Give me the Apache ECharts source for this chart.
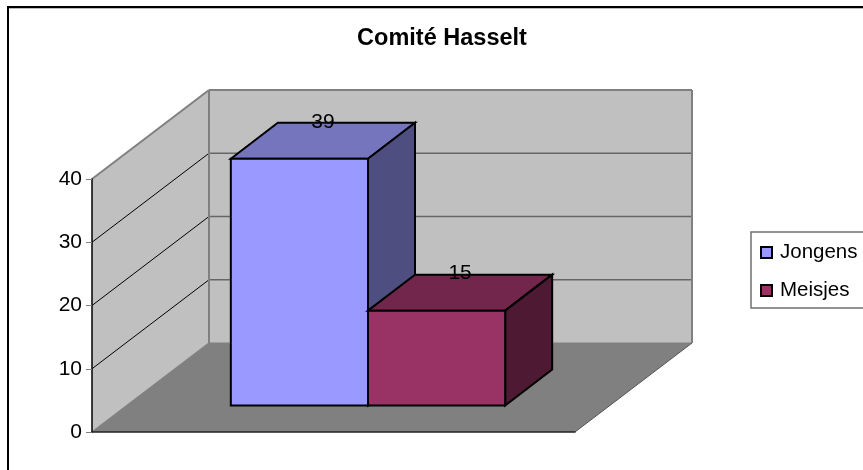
<!DOCTYPE html>
<html>
<head>
<meta charset="utf-8">
<title>Comité Hasselt</title>
<style>
  html, body { margin: 0; padding: 0; background: #fff; }
  #main { width: 863px; height: 470px; }
</style>
<script src="https://cdn.jsdelivr.net/npm/echarts@6/dist/echarts.min.js"></script>
</head>
<body>
<div id="main"></div>
<script>
const categories = ["Comité Hasselt"];
const seriesNames = ["Jongens", "Meisjes"];
const jongensValues = [39];
const meisjesValues = [15];
const yTicks = [0, 10, 20, 30, 40];

// fake 3d: how far the back wall sits from the front plane
const wallDepth = [117, -89];
const barDepth = [47, -36];
const barFloorShift = [34.5, -26.5];
const barShare = 0.284;

const faces = {
  Jongens: { front: "#9999FF", top: "#7575BE", side: "#4E4E80" },
  Meisjes: { front: "#993366", top: "#73264C", side: "#4D1933" },
};

function poly(points, fill, stroke, lineWidth) {
  return {
    type: "polygon",
    shape: { points: points },
    style: { fill: fill, stroke: stroke, lineWidth: lineWidth || 0 },
  };
}

function line(a, b, stroke, lineWidth) {
  return {
    type: "line",
    shape: { x1: a[0], y1: a[1], x2: b[0], y2: b[1] },
    style: { stroke: stroke, lineWidth: lineWidth },
  };
}

function renderWalls(params, api) {
  const rect = params.coordSys;
  const left = rect.x;
  const right = rect.x + rect.width;
  const bottom = api.coord([0, 0])[1];
  const top = api.coord([0, 40])[1];
  const [dx, dy] = wallDepth;
  const children = [
    poly([[left, bottom], [left + dx, bottom + dy], [right + dx, bottom + dy], [right, bottom]], "#808080"),
    poly([[left, top], [left + dx, top + dy], [left + dx, bottom + dy], [left, bottom]], "#C0C0C0"),
    poly([[left + dx, top + dy], [right + dx, top + dy], [right + dx, bottom + dy], [left + dx, bottom + dy]], "#C0C0C0"),
  ];
  yTicks.slice(1, -1).forEach((t) => {
    const y = api.coord([0, t])[1];
    children.push(line([left, y], [left + dx, y + dy], "#000", 1));
    children.push(line([left + dx, y + dy], [right + dx, y + dy], "#666", 1.5));
  });
  // wall outline
  children.push(line([left, top], [left + dx, top + dy], "#808080", 2));
  children.push(line([left + dx, top + dy], [right + dx, top + dy], "#808080", 2));
  children.push(line([right + dx, top + dy], [right + dx, bottom + dy], "#808080", 2));
  children.push(line([left + dx, top + dy], [left + dx, bottom + dy], "#808080", 2));
  children.push(line([left, bottom], [left + dx, bottom + dy], "#808080", 1.5));
  children.push(line([left + dx, bottom + dy], [right + dx, bottom + dy], "#808080", 1));
  children.push(line([right + dx, bottom + dy], [right, bottom], "#555", 1));
  return { type: "group", children: children };
}

function renderBar(barIndex, name) {
  return function (params, api) {
    const value = api.value(1);
    const band = api.size([1, 0])[0];
    const width = band * barShare;
    const center = api.coord([api.value(0), 0])[0];
    const [sx, sy] = barFloorShift;
    const [dx, dy] = barDepth;
    const x0 = center + (barIndex - 1) * width + sx;
    const x1 = x0 + width;
    const y0 = api.coord([0, 0])[1] + sy;
    const y1 = api.coord([0, value])[1] + sy;
    const c = faces[name];
    return {
      type: "group",
      children: [
        poly([[x0, y1], [x0 + dx, y1 + dy], [x1 + dx, y1 + dy], [x1, y1]], c.top, "#000", 2),
        poly([[x1, y1], [x1 + dx, y1 + dy], [x1 + dx, y0 + dy], [x1, y0]], c.side, "#000", 2),
        poly([[x0, y1], [x1, y1], [x1, y0], [x0, y0]], c.front, "#000", 2),
        {
          type: "text",
          style: {
            text: String(value),
            x: (x0 + x1) / 2 + dx / 2,
            y: y1 + dy - 1,
            align: "center",
            verticalAlign: "middle",
            fill: "#000",
            font: "21px 'Liberation Sans'",
          },
        },
      ],
    };
  };
}

const chart = echarts.init(document.getElementById("main"));

chart.setOption({
  animation: false,
  backgroundColor: "#fff",
  textStyle: { fontFamily: "Liberation Sans" },
  title: {
    text: "Comité Hasselt",
    left: 437,
    top: 22,
    textAlign: "center",
    textStyle: { fontFamily: "Liberation Sans", fontSize: 23.5, fontWeight: "bold", color: "#000" },
  },
  grid: { left: 92, top: 179, width: 483, height: 253 },
  xAxis: {
    type: "category",
    data: categories,
    axisTick: { show: false },
    axisLabel: { show: false },
    axisLine: { lineStyle: { color: "#222", width: 1.5 } },
    z: 5,
  },
  yAxis: {
    type: "value",
    min: 0,
    max: 40,
    interval: 10,
    splitLine: { show: false },
    axisLine: { show: true, lineStyle: { color: "#000", width: 1.5 } },
    axisTick: { show: true, length: 6, lineStyle: { color: "#808080", width: 1 } },
    axisLabel: { fontFamily: "Liberation Sans", fontSize: 21, color: "#000", margin: 10 },
    z: 5,
  },
  legend: {
    data: seriesNames,
    orient: "vertical",
    left: 751,
    top: 232,
    padding: [10, 30, 7, 9],
    itemGap: 17,
    itemWidth: 11,
    itemHeight: 11,
    icon: "rect",
    borderColor: "#707070",
    borderWidth: 1.5,
    backgroundColor: "#fff",
    itemStyle: { borderColor: "#000", borderWidth: 2 },
    textStyle: { fontFamily: "Liberation Sans", fontSize: 20.5, color: "#000", padding: [0, 0, 0, 3] },
  },
  graphic: [
    { type: "line", shape: { x1: 8, y1: 6, x2: 8, y2: 470 }, style: { stroke: "#000", lineWidth: 2 }, z: 10, silent: true },
    { type: "line", shape: { x1: 7, y1: 7, x2: 863, y2: 7 }, style: { stroke: "#000", lineWidth: 2 }, z: 10, silent: true },
    { type: "line", shape: { x1: 9, y1: 8.5, x2: 863, y2: 8.5 }, style: { stroke: "#bbb", lineWidth: 1 }, z: 10, silent: true },
  ],
  series: [
    {
      type: "custom",
      silent: true,
      z: 1,
      renderItem: renderWalls,
      data: [[0, 0]],
    },
    {
      name: seriesNames[0],
      type: "custom",
      z: 2,
      itemStyle: { color: faces.Jongens.front },
      renderItem: renderBar(0, seriesNames[0]),
      encode: { x: 0, y: 1 },
      data: jongensValues.map((v, i) => [i, v]),
    },
    {
      name: seriesNames[1],
      type: "custom",
      z: 3,
      itemStyle: { color: faces.Meisjes.front },
      renderItem: renderBar(1, seriesNames[1]),
      encode: { x: 0, y: 1 },
      data: meisjesValues.map((v, i) => [i, v]),
    },
  ],
});
</script>
</body>
</html>
